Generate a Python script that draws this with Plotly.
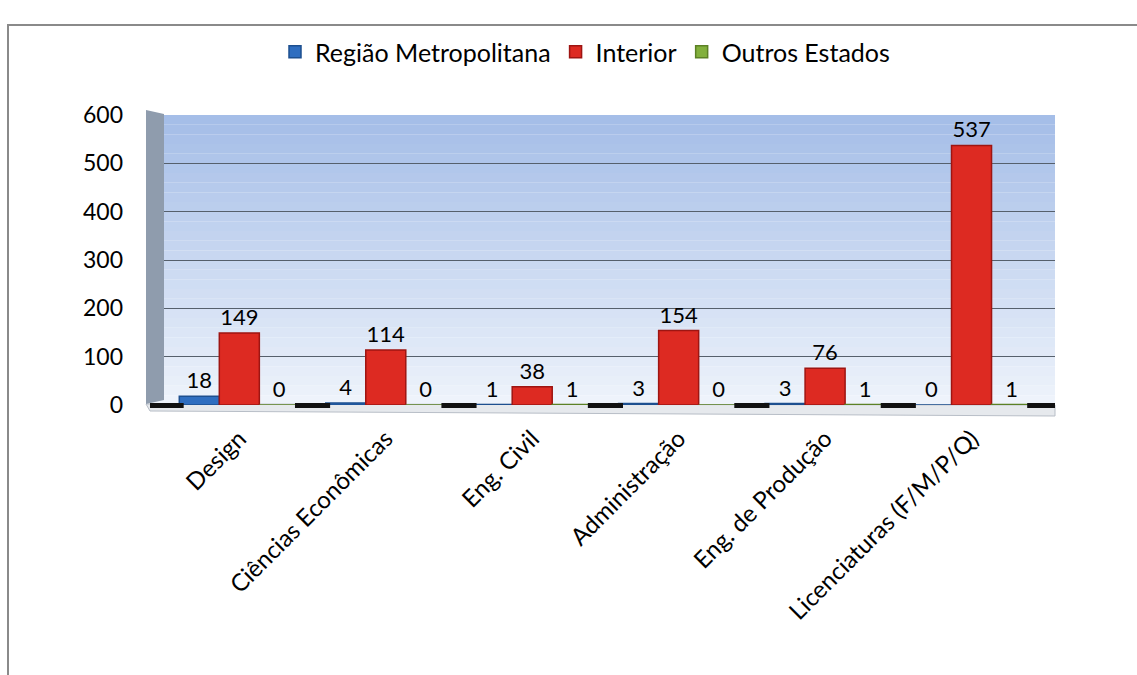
import plotly.graph_objects as go

cursos = ["Design", "Ciências Econômicas", "Eng. Civil", "Administração",
          "Eng. de Produção", "Licenciaturas (F/M/P/Q)"]
regiao_metropolitana = [18, 4, 1, 3, 3, 0]
interior = [149, 114, 38, 154, 76, 537]
outros_estados = [0, 0, 1, 0, 1, 1]
y_ticks = [0, 100, 200, 300, 400, 500, 600]

FONT = "Lato"

fig = go.Figure()
series = [
    ("Região Metropolitana", regiao_metropolitana, "#2f6ec0", "#1d4f8f"),
    ("Interior", interior, "#dd2a22", "#9e1512"),
    ("Outros Estados", outros_estados, "#82b03c", "#5c8125"),
]
for name, vals, color, edge in series:
    fig.add_trace(go.Bar(
        name=name, x=cursos, y=vals,
        marker=dict(color=color, line=dict(color=edge, width=1.5)),
        text=[str(v) for v in vals], textposition="outside",
        textfont=dict(family=FONT, size=22, color="#000000"),
        cliponaxis=False,
    ))

# plot area geometry in pixels (used for paper-coordinate shapes)
W, H = 1137, 675
L, R, T, B = 150, 82, 115, 270
pw, ph = W - L - R, H - T - B


def px_x(p):
    return (p - L) / pw


def px_y(p):
    return (H - B - p) / ph


shapes = []
# soft blue back wall, lighter towards the floor
n = 30
top_c = (165, 190, 232)
bot_c = (238, 243, 251)
for i in range(n):
    f = i / (n - 1)
    c = tuple(int(top_c[k] + (bot_c[k] - top_c[k]) * f) for k in range(3))
    shapes.append(dict(type="rect", xref="paper", yref="paper",
                       x0=0, x1=1, y0=1 - i / n, y1=1 - (i + 1) / n,
                       fillcolor="rgb(%d,%d,%d)" % c, line=dict(width=0),
                       layer="below"))
# grey side wall on the left
shapes.append(dict(type="path", xref="paper", yref="paper",
                   path="M %f %f L %f %f L %f %f L %f %f Z" % (
                       px_x(146), px_y(110), px_x(164), px_y(114),
                       px_x(164), px_y(400), px_x(146), px_y(404)),
                   fillcolor="#8f9cad", line=dict(width=0), layer="above"))
# floor strip under the baseline
shapes.append(dict(type="path", xref="paper", yref="paper",
                   path="M %f %f L %f %f L %f %f L %f %f Z" % (
                       px_x(146), px_y(404), px_x(1055), px_y(405),
                       px_x(1055), px_y(416), px_x(150), px_y(411)),
                   fillcolor="#e6e9ed", line=dict(color="#b8bec7", width=1),
                   layer="below"))
# dark floor shadows in the gaps between course groups
for k in range(len(cursos) + 1):
    xc = k - 0.5
    shapes.append(dict(type="rect", xref="x", yref="paper",
                       x0=xc - 0.12, x1=xc + 0.12,
                       y0=px_y(408), y1=px_y(403),
                       fillcolor="#111111", line=dict(width=0), layer="above"))
# outer chart frame
shapes.append(dict(type="rect", xref="paper", yref="paper",
                   x0=px_x(8), x1=px_x(1145), y0=px_y(25), y1=px_y(690),
                   line=dict(color="#8a8a8a", width=2), fillcolor="rgba(0,0,0,0)",
                   layer="above"))

fig.update_layout(
    width=W, height=H,
    margin=dict(l=L, r=R, t=T, b=B),
    paper_bgcolor="#ffffff", plot_bgcolor="#ffffff",
    barmode="group", bargap=0.18, bargroupgap=0.0,
    font=dict(family=FONT, color="#000000"),
    showlegend=True,
    legend=dict(orientation="h", x=px_x(585), y=px_y(52),
                xanchor="center", yanchor="middle",
                font=dict(family=FONT, size=25, color="#000000"),
                itemwidth=30, bgcolor="rgba(0,0,0,0)"),
    xaxis=dict(tickangle=-45, tickfont=dict(family=FONT, size=24),
               range=[-0.61, 5.57], ticklabelstandoff=14,
               showgrid=False, showline=False, ticks=""),
    yaxis=dict(range=[0, 600], tickvals=y_ticks,
               tickfont=dict(family=FONT, size=23),
               showgrid=True, gridcolor="#56606c", gridwidth=1,
               zeroline=False, showline=False, ticks="", ticklabelstandoff=26),
    shapes=shapes,
)

fig.write_html("out.html")
